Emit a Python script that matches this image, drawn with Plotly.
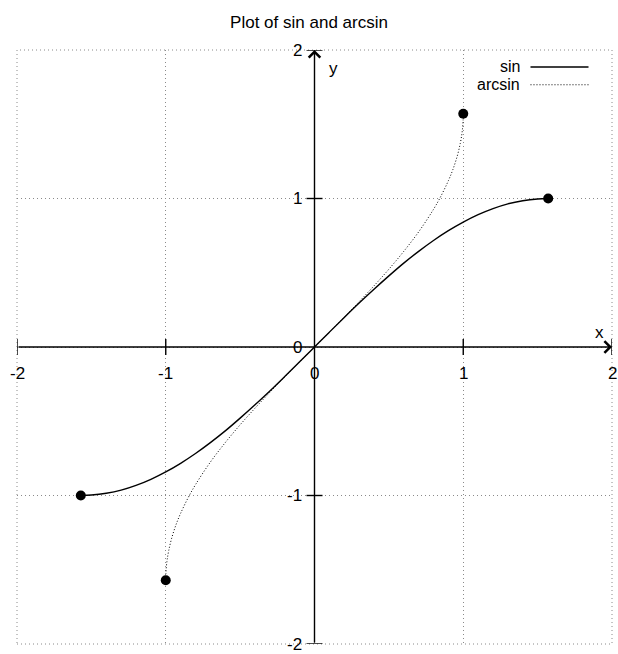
import plotly.graph_objects as go

# Sampled values of sin(x) on [-pi/2, pi/2]
sin_x = [-1.571, -1.5, -1.4, -1.3, -1.2, -1.1, -1.0, -0.9, -0.8, -0.7, -0.6, -0.5,
         -0.4, -0.3, -0.2, -0.1, 0.0, 0.1, 0.2, 0.3, 0.4, 0.5, 0.6, 0.7, 0.8, 0.9,
         1.0, 1.1, 1.2, 1.3, 1.4, 1.5, 1.571]
sin_y = [-1.000, -0.997, -0.985, -0.964, -0.932, -0.891, -0.841, -0.783, -0.717,
         -0.644, -0.565, -0.479, -0.389, -0.296, -0.199, -0.100, 0.000, 0.100,
         0.199, 0.296, 0.389, 0.479, 0.565, 0.644, 0.717, 0.783, 0.841, 0.891,
         0.932, 0.964, 0.985, 0.997, 1.000]

# Sampled values of arcsin(x) on [-1, 1]
asin_x = [-1.0, -0.999, -0.995, -0.99, -0.98, -0.96, -0.93, -0.9, -0.85, -0.8, -0.7,
          -0.6, -0.5, -0.4, -0.3, -0.2, -0.1, 0.0, 0.1, 0.2, 0.3, 0.4, 0.5, 0.6,
          0.7, 0.8, 0.85, 0.9, 0.93, 0.96, 0.98, 0.99, 0.995, 0.999, 1.0]
asin_y = [-1.571, -1.526, -1.471, -1.429, -1.371, -1.287, -1.194, -1.120, -1.016,
          -0.927, -0.775, -0.644, -0.524, -0.412, -0.305, -0.201, -0.100, 0.000,
          0.100, 0.201, 0.305, 0.412, 0.524, 0.644, 0.775, 0.927, 1.016, 1.120,
          1.194, 1.287, 1.371, 1.429, 1.471, 1.526, 1.571]

# Curve end points
sin_end_x = [-1.571, 1.571]
sin_end_y = [-1.0, 1.0]
asin_end_x = [-1.0, 1.0]
asin_end_y = [-1.571, 1.571]

tick_values = [-2, -1, 0, 1, 2]
tick_labels = ["-2", "-1", "0", "1", "2"]

FONT = "Liberation Sans, Arial, Helvetica, sans-serif"
FS = 17
DOTS = "1px,3px"

fig = go.Figure()
fig.add_trace(go.Scatter(x=sin_x, y=sin_y, mode="lines", name="sin",
                         line=dict(color="black", width=1.4, shape="spline")))
fig.add_trace(go.Scatter(x=asin_x, y=asin_y, mode="lines", name="arcsin",
                         line=dict(color="black", width=1, dash="1px,2px", shape="spline")))
fig.add_trace(go.Scatter(x=sin_end_x + asin_end_x, y=sin_end_y + asin_end_y,
                         mode="markers", marker=dict(color="black", size=10),
                         showlegend=False))

annotations = []
shapes = []

# Dotted frame along the outer grid lines
shapes.append(dict(type="rect", xref="paper", yref="paper", x0=0, x1=1, y0=0, y1=1,
                   line=dict(color="#8a8a8a", width=1, dash=DOTS), layer="below"))

# Axes through the origin, with arrow heads at the positive ends
annotations.append(dict(x=2, y=0, ax=-2, ay=0, xref="x", yref="y", axref="x", ayref="y",
                        showarrow=True, arrowhead=4, arrowsize=1.6, arrowwidth=1.4,
                        arrowcolor="black", text="", standoff=0, startstandoff=0))
annotations.append(dict(x=0, y=2, ax=0, ay=-2, xref="x", yref="y", axref="x", ayref="y",
                        showarrow=True, arrowhead=4, arrowsize=1.6, arrowwidth=1.4,
                        arrowcolor="black", text="", standoff=0, startstandoff=0))

# Tick marks and labels on both axes
for v, lab in zip(tick_values, tick_labels):
    if v != 0:
        shapes.append(dict(type="line", xref="x", yref="y", x0=v, x1=v,
                           ysizemode="pixel", yanchor=0, y0=-8, y1=8,
                           line=dict(color="black", width=1.4)))
        shapes.append(dict(type="line", xref="x", yref="y", y0=v, y1=v,
                           xsizemode="pixel", xanchor=0, x0=-8, x1=8,
                           line=dict(color="black", width=1.4)))
    annotations.append(dict(x=v, y=0, xref="x", yref="y", text=lab, showarrow=False,
                            xanchor="center", yanchor="middle", yshift=-26,
                            font=dict(family=FONT, size=FS, color="black")))
    annotations.append(dict(x=0, y=v, xref="x", yref="y", text=lab, showarrow=False,
                            xanchor="right", yanchor="middle", xshift=-11,
                            font=dict(family=FONT, size=FS, color="black")))

# Axis names
annotations.append(dict(x=2, y=0, xref="x", yref="y", text="x", showarrow=False,
                        xanchor="center", yanchor="middle", xshift=-13, yshift=15,
                        font=dict(family=FONT, size=FS, color="black")))
annotations.append(dict(x=0, y=2, xref="x", yref="y", text="y", showarrow=False,
                        xanchor="center", yanchor="middle", xshift=19, yshift=-18,
                        font=dict(family=FONT, size=FS, color="black")))

# Key in the top right corner: label, then line sample
key_rows = [("sin", "solid", 1.4, 1.886), ("arcsin", "1px,2px", 1, 1.766)]
for lab, dash, w, yk in key_rows:
    annotations.append(dict(x=1.398, y=yk, xref="x", yref="y", text=lab, showarrow=False,
                            xanchor="right", yanchor="middle",
                            font=dict(family=FONT, size=16, color="black")))
    shapes.append(dict(type="line", xref="x", yref="y", x0=1.452, x1=1.842, y0=yk, y1=yk,
                       line=dict(color="black", width=w, dash=dash)))

grid = dict(range=[-2, 2], tickvals=tick_values, showticklabels=False, ticks="",
            showgrid=True, gridcolor="#8a8a8a", gridwidth=1, griddash=DOTS,
            zeroline=False, showline=False, fixedrange=True)

fig.update_layout(
    width=618, height=654,
    margin=dict(l=17, r=6, t=50, b=10),
    paper_bgcolor="white", plot_bgcolor="white",
    showlegend=False,
    title=dict(text="Plot of sin and arcsin", x=0.5, xanchor="center",
               y=1 - 22 / 654, yref="container", yanchor="middle",
               font=dict(family=FONT, size=FS, color="black")),
    xaxis=grid, yaxis=grid,
    annotations=annotations, shapes=shapes,
)

fig.write_html("out.html")
